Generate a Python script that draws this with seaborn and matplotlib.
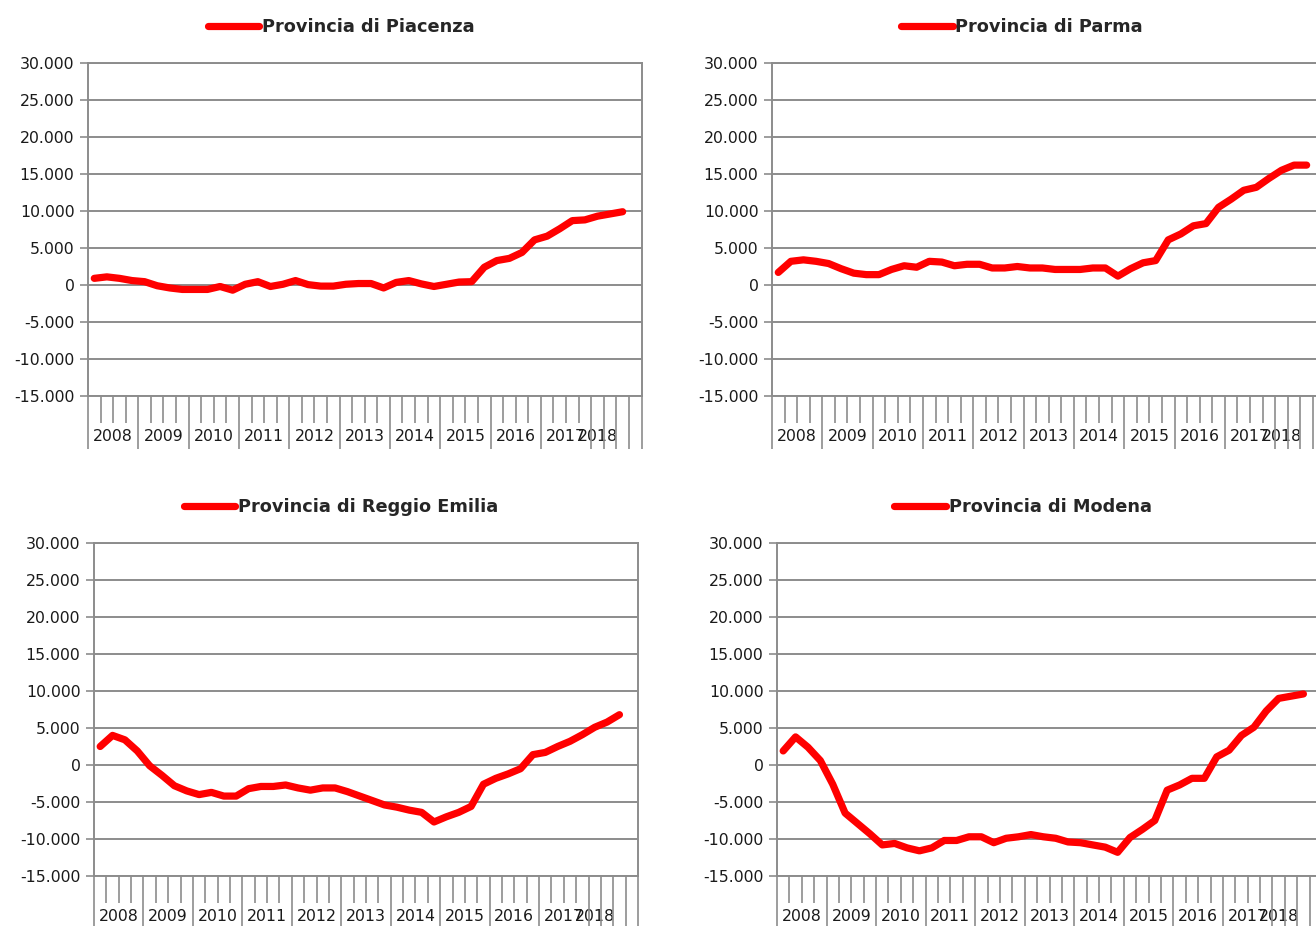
import matplotlib
matplotlib.use("Agg")
import matplotlib.pyplot as plt
from matplotlib.ticker import FixedLocator, FuncFormatter, NullLocator
import pandas as pd
import seaborn as sns

# quarterly balance per province, 2008 Q1 -> 2018 Q3
PIACENZA = [900, 1100, 900, 600, 450, -100, -400, -600, -600, -600,
            -200, -700, 100, 450, -200, 100, 600, 50, -150, -150,
            100, 200, 200, -400, 350, 600, 150, -200, 100, 400,
            450, 2400, 3300, 3600, 4400, 6100, 6600, 7600, 8700, 8800,
            9300, 9600, 9900]
PARMA = [1700, 3200, 3400, 3200, 2900, 2200, 1600, 1400, 1400, 2100,
         2600, 2400, 3200, 3100, 2600, 2800, 2800, 2300, 2300, 2500,
         2300, 2300, 2100, 2100, 2100, 2300, 2300, 1200, 2200, 3000,
         3300, 6100, 6900, 8000, 8300, 10500, 11600, 12800, 13200, 14400,
         15500, 16200, 16200]
REGGIO = [2500, 4000, 3400, 1900, -100, -1400, -2800, -3500, -4000, -3700,
          -4200, -4200, -3200, -2900, -2900, -2700, -3100, -3400, -3100, -3100,
          -3600, -4200, -4800, -5400, -5700, -6100, -6400, -7700, -7000, -6400,
          -5600, -2600, -1800, -1200, -500, 1400, 1700, 2500, 3200, 4100,
          5100, 5800, 6800]
MODENA = [1900, 3800, 2400, 600, -2600, -6500, -7900, -9300, -10800, -10600,
          -11200, -11600, -11200, -10200, -10200, -9700, -9700, -10500, -9900, -9700,
          -9400, -9700, -9900, -10400, -10500, -10800, -11100, -11800, -9800, -8700,
          -7500, -3400, -2700, -1800, -1800, 1100, 2000, 4000, 5100, 7300,
          9000, 9300, 9600]

TITLES = ["Provincia di Piacenza", "Provincia di Parma",
          "Provincia di Reggio Emilia", "Provincia di Modena"]

# Excel multi-level category axis: year groups (2018 only has one quarter labelled)
GROUP_LABELS = ["2008", "2009", "2010", "2011", "2012", "2013", "2014",
                "2015", "2016", "2017", "2018", "", "", ""]
GROUP_SIZES = [4, 4, 4, 4, 4, 4, 4, 4, 4, 4, 1, 1, 1, 1]

RED = "#FF0000"
GRID = "#8C8C8C"
TXT = "#1A1A1A"
W, H = 1316, 926

sns.set_style("white")
plt.rcParams["font.family"] = ["DejaVu Sans"]

n_cats = sum(GROUP_SIZES)
edges, centers = [-0.5], []
for size in GROUP_SIZES:
    centers.append(edges[-1] + size / 2)
    edges.append(edges[-1] + size)
short_ticks = [k - 0.5 for k in range(1, n_cats) if (k - 0.5) not in edges]

fmt = FuncFormatter(lambda v, _: f"{v:,.0f}".replace(",", "."))

fig = plt.figure(figsize=(W / 100, H / 100), dpi=100)

# axes boxes in pixels: left, top, width, height
boxes = [(88, 63, 553.5, 333), (772, 63, 553.5, 333),
         (94, 543, 544, 333), (777, 543, 545, 333)]
legend_pos = [(341, 27), (1022, 27), (341, 507), (1023, 507)]
series = [PIACENZA, PARMA, REGGIO, MODENA]

for (l, t, w, h), (lx, ly), vals, title in zip(boxes, legend_pos, series, TITLES):
    ax = fig.add_axes([l / W, 1 - (t + h) / H, w / W, h / H])
    df = pd.DataFrame({"pos": range(len(vals)), "saldo": vals})
    sns.lineplot(data=df, x="pos", y="saldo", ax=ax, color=RED, linewidth=5.2,
                 label=title, solid_capstyle="round", solid_joinstyle="round")

    ax.set_xlim(-0.5, n_cats - 0.5)
    ax.set_ylim(-15000, 30000)
    ax.yaxis.set_major_locator(FixedLocator(range(-15000, 30001, 5000)))
    ax.yaxis.set_major_formatter(fmt)
    ax.set_axisbelow(True)
    ax.grid(axis="y", color=GRID, linewidth=1.4)
    ax.grid(axis="x", visible=False)
    ax.set_xlabel("")
    ax.set_ylabel("")
    for sp in ax.spines.values():
        sp.set_color(GRID)
        sp.set_linewidth(1.4)

    ax.xaxis.set_major_locator(FixedLocator(edges))
    ax.xaxis.set_minor_locator(FixedLocator(short_ticks))
    ax.set_xticklabels([])
    ax.tick_params(axis="x", which="major", direction="out", length=38,
                   width=1.2, color=GRID, bottom=True)
    ax.tick_params(axis="x", which="minor", direction="out", length=19.5,
                   width=1.2, color=GRID, bottom=True)
    ax.tick_params(axis="y", direction="out", length=5.8, width=1.2, color=GRID,
                   left=True, labelsize=11.3, labelcolor=TXT, pad=4)

    sec = ax.secondary_xaxis("bottom")
    sec.set_xticks(centers, labels=GROUP_LABELS)
    sec.xaxis.set_minor_locator(NullLocator())
    sec.tick_params(length=0, pad=24, labelsize=11.3, labelcolor=TXT)
    sec.spines["bottom"].set_visible(False)

    ax.legend(loc="center", bbox_to_anchor=(lx / W, 1 - ly / H),
              bbox_transform=fig.transFigure, frameon=False,
              handlelength=2.9, handletextpad=0.15, borderpad=0, borderaxespad=0,
              prop={"family": "DejaVu Sans", "weight": "bold", "size": 12.8})

fig.savefig("out.png", dpi=100, facecolor="white")
